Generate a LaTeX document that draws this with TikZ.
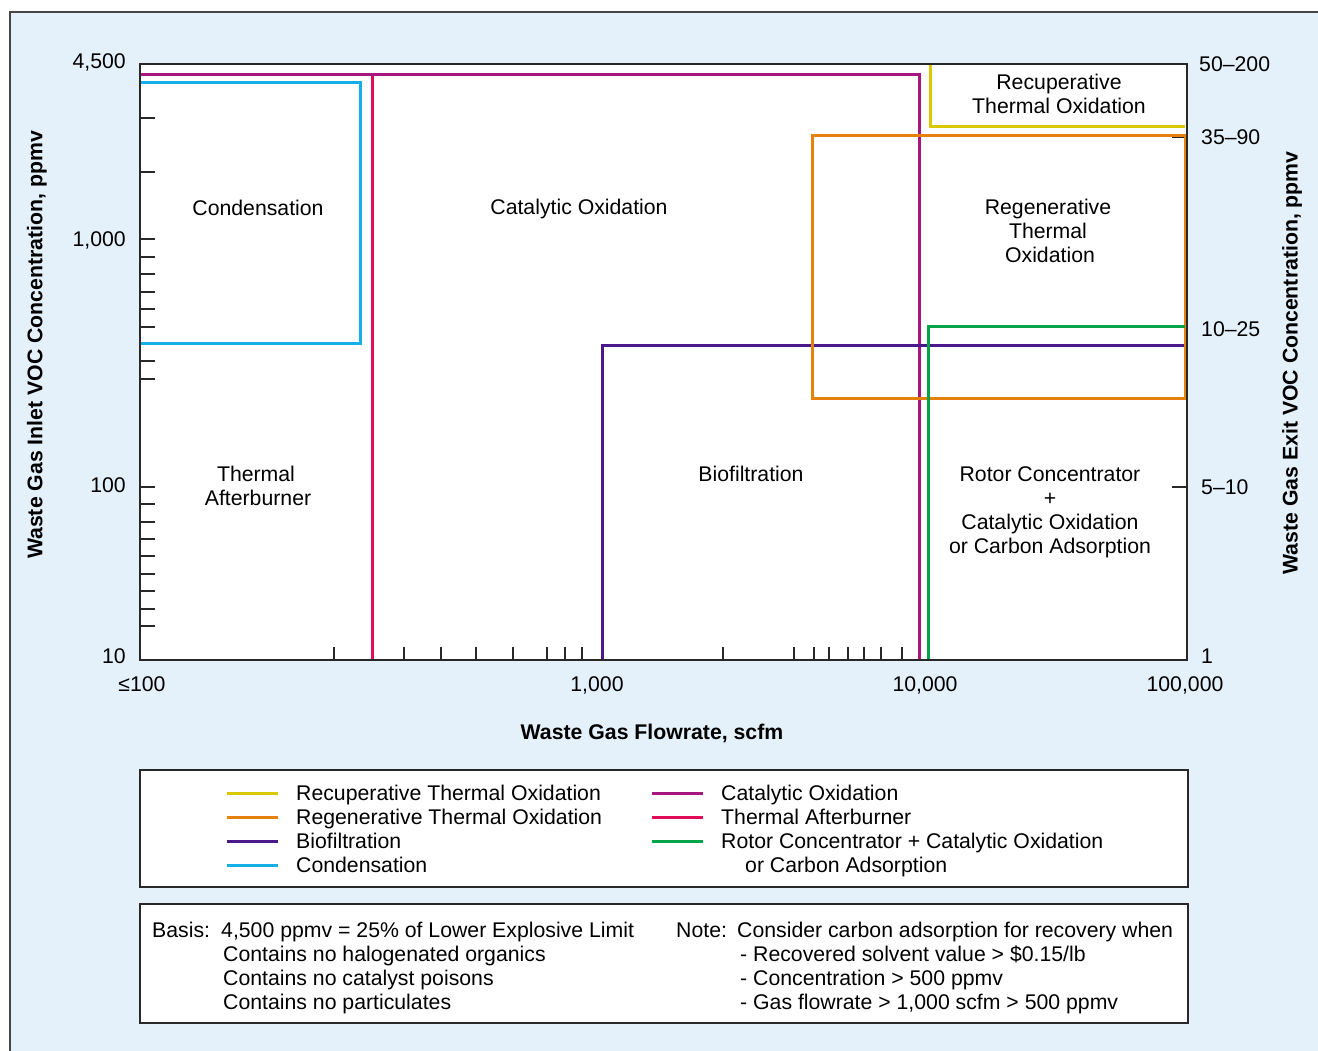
\documentclass[tikz,border=0pt]{standalone}
\usepackage{fontspec}
\setmainfont{Liberation Sans}
\definecolor{bgblue}{RGB}{228,240,250}
\definecolor{framegray}{RGB}{70,70,70}
\definecolor{axisgray}{RGB}{40,40,40}
\definecolor{cYellow}{RGB}{218,200,0}
\definecolor{cOrange}{RGB}{230,130,12}
\definecolor{cPurple}{RGB}{75,25,140}
\definecolor{cCyan}{RGB}{22,174,230}
\definecolor{cMagenta}{RGB}{168,22,128}
\definecolor{cCrimson}{RGB}{226,12,88}
\definecolor{cGreen}{RGB}{0,165,72}
\begin{document}
\begin{tikzpicture}[x=1pt,y=-1pt,
  font=\fontsize{21.25}{24}\selectfont,
  txt/.style={inner sep=0pt, anchor=base},
  txtw/.style={inner sep=0pt, anchor=base west},
  txte/.style={inner sep=0pt, anchor=base east},
  region/.style={line width=3pt, line cap=butt, line join=miter},
  tickmark/.style={line width=1.3pt, draw=axisgray},
  axisframe/.style={line width=1.6pt, draw=axisgray},
  boxframe/.style={line width=1.3pt, draw=axisgray, fill=white},
  axtitle/.style={inner sep=0pt, font=\fontsize{21.25}{24}\selectfont\bfseries}]
\useasboundingbox (0,0) rectangle (1318,1051);
% background panel
\fill[white] (0,0) rectangle (1318,1051);
\fill[bgblue] (9.5,12) rectangle (1318,1051);
\draw[framegray, line width=2pt] (9.5,1051) -- (9.5,12) -- (1318,12);
% plot area
\fill[white] (140,64) rectangle (1187,660);
% ticks left
\foreach \ty in {118,172,239,257,274,292,309,327,343,361,379,487,504,522,539,556,574,591,609,626}
  \draw[tickmark] (140,\ty) -- (155,\ty);
% ticks bottom
\foreach \tx in {334,404,441,476,513,547,565,582,723,794,814,829,848,864,881,902}
  \draw[tickmark] (\tx,660) -- (\tx,647);
% ticks right
\foreach \ty in {137,326,487}
  \draw[tickmark] (1187,\ty) -- (1172,\ty);
% regions
\draw[region, cCyan] (140,83) -- (360,83) -- (360,343) -- (140,343);
\draw[region, cCrimson] (372,75) -- (372,660);
\draw[region, cMagenta] (140,75) -- (919,75) -- (919,660);
\draw[region, cPurple] (602,660) -- (602,345) -- (1185,345);
\draw[region, cOrange] (812,136) rectangle (1185.5,398);
\draw[region, cYellow] (930,64) -- (930,127) -- (1185,127);
\draw[region, cGreen] (928,660) -- (928,326) -- (1185,326);
\draw[axisframe] (140,64) rectangle (1187,660);
% region labels
\node[txt] (lCond) at (258,216) {Condensation};
\node[txt] (lCat) at (579,215) {Catalytic Oxidation};
\node[txt] (lRec1) at (1059,90) {Recuperative};
\node[txt] (lRec2) at (1059,114) {Thermal Oxidation};
\node[txt] (lReg1) at (1048,215) {Regenerative};
\node[txt] (lReg2) at (1048,239) {Thermal};
\node[txt] (lReg3) at (1050,263) {Oxidation};
\node[txt] (lTA1) at (256,481) {Thermal};
\node[txt] (lTA2) at (258,505) {Afterburner};
\node[txt] (lBio) at (751,481) {Biofiltration};
\node[txt] (lRot1) at (1050,481) {Rotor Concentrator};
\node[txt] (lRot2) at (1050,505) {+};
\node[txt] (lRot3) at (1050,529) {Catalytic Oxidation};
\node[txt] (lRot4) at (1050,553) {or Carbon Adsorption};
% left tick labels
\node[txte] (yl1) at (126,69) {4,500};
\node[txte] (yl2) at (126,247) {1,000};
\node[txte] (yl3) at (126,492) {100};
\node[txte] (yl4) at (126,663) {10};
% right tick labels
\node[txtw] (yr1) at (1199,72) {50--200};
\node[txtw] (yr2) at (1201,145) {35--90};
\node[txtw] (yr3) at (1201,336) {10--25};
\node[txtw] (yr4) at (1201,494) {5--10};
\node[txtw] (yr5) at (1201,663) {1};
% bottom tick labels
\node[txt] (xl1) at (142,691) {≤100};
\node[txt] (xl2) at (597,691) {1,000};
\node[txt] (xl3) at (925,691) {10,000};
\node[txt] (xl4) at (1185,691) {100,000};
% axis titles
\node[axtitle] (xt) at (652,733) {Waste Gas Flowrate, scfm};
\node[axtitle, rotate=90] (ytl) at (37,345) {Waste Gas Inlet VOC Concentration, ppmv};
\node[axtitle, rotate=90] (ytr) at (1292,363) {Waste Gas Exit VOC Concentration, ppmv};
% legend box
\draw[boxframe] (140,770) rectangle (1188,887);
\draw[region, cYellow] (227,793) -- (278,793);
\draw[region, cOrange] (227,817) -- (278,817);
\draw[region, cPurple] (227,841) -- (278,841);
\draw[region, cCyan] (227,865) -- (278,865);
\draw[region, cMagenta] (652,793) -- (703,793);
\draw[region, cCrimson] (652,817) -- (703,817);
\draw[region, cGreen] (652,841) -- (703,841);
\node[txtw] (lg1) at (296,800) {Recuperative Thermal Oxidation};
\node[txtw] (lg2) at (296,824) {Regenerative Thermal Oxidation};
\node[txtw] (lg3) at (296,848) {Biofiltration};
\node[txtw] (lg4) at (296,872) {Condensation};
\node[txtw] (lg5) at (721,800) {Catalytic Oxidation};
\node[txtw] (lg6) at (721,824) {Thermal Afterburner};
\node[txtw] (lg7) at (721,848) {Rotor Concentrator + Catalytic Oxidation};
\node[txtw] (lg8) at (745,872) {or Carbon Adsorption};
% note box
\draw[boxframe] (140,904) rectangle (1188,1023);
\node[txtw] (n1) at (152,937) {Basis:};
\node[txtw] (n2) at (221,937) {4,500 ppmv = 25\% of Lower Explosive Limit};
\node[txtw] (n3) at (223,961) {Contains no halogenated organics};
\node[txtw] (n4) at (223,985) {Contains no catalyst poisons};
\node[txtw] (n5) at (223,1009) {Contains no particulates};
\node[txtw] (n6) at (676,937) {Note:};
\node[txtw] (n7) at (737,937) {Consider carbon adsorption for recovery when};
\node[txtw] (n8) at (740,961) {- Recovered solvent value > \$0.15/lb};
\node[txtw] (n9) at (740,985) {- Concentration > 500 ppmv};
\node[txtw] (n10) at (740,1009) {- Gas flowrate > 1,000 scfm > 500 ppmv};
\end{tikzpicture}
\end{document}
